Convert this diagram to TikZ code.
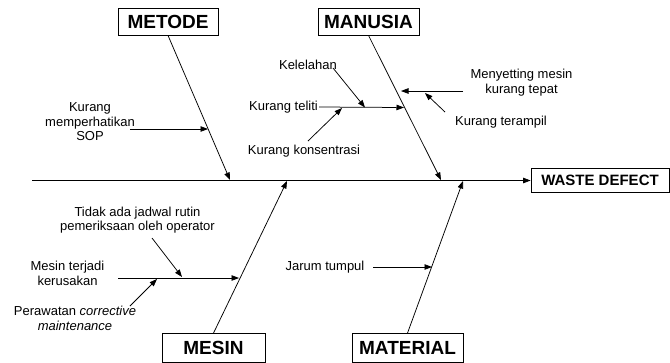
\documentclass[tikz,border=0pt]{standalone}
\usepackage{fontspec}
\setmainfont{Liberation Sans}
\usetikzlibrary{arrows.meta}
\begin{document}
\begin{tikzpicture}[x=1pt,y=-1pt,
  bone/.style={line width=0.75pt,-{Triangle[length=7.5pt,width=5.5pt]}},
  cat/.style={draw,line width=0.8pt,font=\fontsize{19}{21}\selectfont\bfseries,inner sep=0pt,minimum height=27pt},
  lbl/.style={font=\fontsize{13}{14.5}\selectfont,align=center,inner sep=1pt},
]
\useasboundingbox (0,0) rectangle (670,362);
% category boxes
\node[cat,minimum width=100pt] (metode) at (168,21.5) {METODE};
\node[cat,minimum width=101pt] (manusia) at (368.5,21.5) {MANUSIA};
\node[cat,minimum width=103pt,minimum height=29pt] (mesin) at (213.5,348) {MESIN};
\node[cat,minimum width=111pt,minimum height=29pt] (material) at (407.5,348) {MATERIAL};
\node[cat,minimum width=138pt,minimum height=24pt,font=\fontsize{15}{17}\selectfont\bfseries] (waste) at (600,180.5) {WASTE DEFECT};
% spine
\coordinate (tail) at (32,180.5);
\draw[bone] (tail) -- (waste.west);
% main bones
\coordinate (metodeTip) at (230,180);
\coordinate (manusiaTip) at (441,180);
\coordinate (mesinTip) at (287,181);
\coordinate (materialTip) at (463,181);
\draw[bone] (metode.south) -- (metodeTip);
\draw[bone] (manusia.south) -- (manusiaTip);
\draw[bone] (mesin.north) -- (mesinTip);
\draw[bone] (material.north) -- (materialTip);
% METODE causes
\node[lbl] (sop) at (90,122) {Kurang\\memperhatikan\\SOP};
\coordinate (sopTail) at (130,129);
\coordinate (sopTip) at (208,129);
\draw[bone] (sopTail) -- (sopTip);
% MANUSIA causes
\node[lbl,anchor=east] (teliti) at (319,107) {Kurang teliti};
\coordinate (telitiTip) at (404,107.5);
\draw[bone] (teliti.east) -- (telitiTip);
\node[lbl] (lelah) at (308,65) {Kelelahan};
\coordinate (lelahTail) at (333,68);
\coordinate (lelahTip) at (365,107.5);
\draw[bone] (lelahTail) -- (lelahTip);
\node[lbl] (konsen) at (304,151) {Kurang konsentrasi};
\coordinate (konsenTail) at (308,141);
\coordinate (konsenTip) at (342,108);
\draw[bone] (konsenTail) -- (konsenTip);
\node[lbl] (setting) at (521.5,82.5) {Menyetting mesin\\kurang tepat};
\coordinate (settingTail) at (463,91);
\coordinate (settingTip) at (401,91);
\draw[bone] (settingTail) -- (settingTip);
\node[lbl] (terampil) at (501,122) {Kurang terampil};
\coordinate (terampilTail) at (445,112);
\coordinate (terampilTip) at (425,93);
\draw[bone] (terampilTail) -- (terampilTip);
% MESIN causes
\node[lbl] (rusak) at (67.5,273.5) {Mesin terjadi\\kerusakan};
\coordinate (rusakTail) at (118,278);
\coordinate (rusakTip) at (239,278);
\draw[bone] (rusakTail) -- (rusakTip);
\node[lbl] (jadwal) at (137.5,220) {Tidak ada jadwal rutin\\pemeriksaan oleh operator};
\coordinate (jadwalTail) at (152,238);
\coordinate (jadwalTip) at (182,277);
\draw[bone] (jadwalTail) -- (jadwalTip);
\node[lbl] (rawat) at (75,318.5) {Perawatan \textit{corrective}\\\textit{maintenance}};
\coordinate (rawatTail) at (130,306);
\coordinate (rawatTip) at (157,279);
\draw[bone] (rawatTail) -- (rawatTip);
% MATERIAL causes
\node[lbl] (jarum) at (325,267) {Jarum tumpul};
\coordinate (jarumTail) at (373,267);
\coordinate (jarumTip) at (432,267);
\draw[bone] (jarumTail) -- (jarumTip);
\end{tikzpicture}
\end{document}
